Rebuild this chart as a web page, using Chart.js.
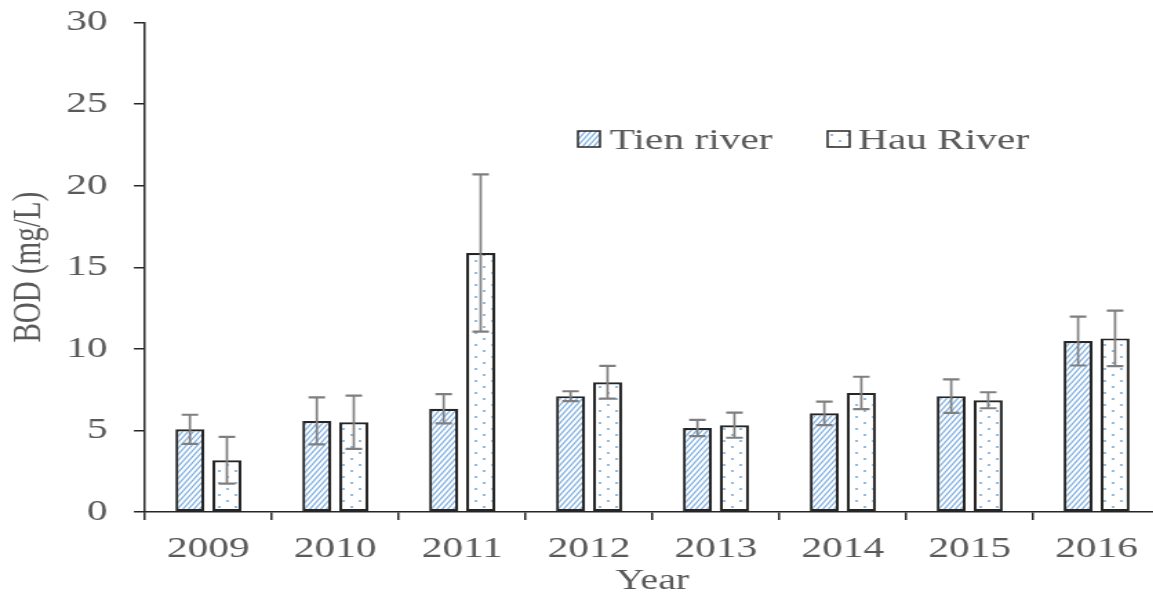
<!DOCTYPE html>
<html>
<head>
<meta charset="utf-8">
<script src="https://cdn.jsdelivr.net/npm/chart.js@4.4.1/dist/chart.umd.min.js"></script>
<style>
  html, body { margin: 0; padding: 0; background: #fff; overflow: hidden; }
</style>
</head>
<body>
<!-- canvas is drawn narrow and widened by CSS, giving the wide serif look -->
<canvas id="bod" width="841" height="599" style="display:block;width:1160px;height:599px"></canvas>
<script>
const years = ['2009', '2010', '2011', '2012', '2013', '2014', '2015', '2016']
const tienMean = [5.07, 5.58, 6.33, 7.1, 5.15, 6.05, 7.1, 10.48]
const tienSd = [0.89, 1.44, 0.9, 0.3, 0.5, 0.72, 1.03, 1.5]
const hauMean = [3.17, 5.5, 15.87, 7.95, 5.32, 7.3, 6.85, 10.64]
const hauSd = [1.43, 1.63, 4.82, 1.0, 0.77, 0.99, 0.49, 1.7]
const yTicks = [0, 5, 10, 15, 20, 25, 30]

const TEXT = '#595959'
const INK = '#262626'
const WHISKER = '#7f7f7f'
const SERIF = '"Liberation Serif", "Times New Roman", serif'

const spreads = [tienSd, hauSd]

const makeTile = (w, h, paint) => {
  const c = document.createElement('canvas')
  c.width = w
  c.height = h
  const g = c.getContext('2d')
  g.fillStyle = '#fff'
  g.fillRect(0, 0, w, h)
  paint(g, w, h)
  return c
}

// wide upward diagonal for Tien river
const hatchTile = makeTile(4, 6, (g, w, h) => {
  g.strokeStyle = '#79ace0'
  g.lineWidth = 1.2
  for (const c of [0, h, 2 * h]) {
    g.beginPath()
    g.moveTo(-1, c + h / w)
    g.lineTo(w + 1, c - h - h / w)
    g.stroke()
  }
})

// sparse staggered dots for Hau River
const dotTile = makeTile(12, 12, (g) => {
  g.fillStyle = '#5b9bd5'
  for (const [x, y] of [[3, 3], [9, 9]]) {
    g.beginPath()
    g.arc(x, y, 0.9, 0, Math.PI * 2)
    g.fill()
  }
})

const canvas = document.getElementById('bod')
const ctx = canvas.getContext('2d')
const hatch = ctx.createPattern(hatchTile, 'repeat')
const dots = ctx.createPattern(dotTile, 'repeat')

const errorBars = {
  id: 'errorBars',
  afterDatasetsDraw(chart) {
    const { ctx, scales: { y } } = chart
    ctx.save()
    ctx.strokeStyle = WHISKER
    chart.data.datasets.forEach((ds, i) => {
      const meta = chart.getDatasetMeta(i)
      meta.data.forEach((bar, j) => {
        const hi = y.getPixelForValue(ds.data[j] + spreads[i][j])
        const lo = y.getPixelForValue(ds.data[j] - spreads[i][j])
        ctx.lineWidth = 1.7
        ctx.beginPath()
        ctx.moveTo(bar.x, hi)
        ctx.lineTo(bar.x, lo)
        ctx.stroke()
        ctx.lineWidth = 2.2
        ctx.beginPath()
        ctx.moveTo(bar.x - 6, hi)
        ctx.lineTo(bar.x + 6, hi)
        ctx.moveTo(bar.x - 6, lo)
        ctx.lineTo(bar.x + 6, lo)
        ctx.stroke()
      })
    })
    ctx.restore()
  },
}

// legend sits inside the plot, to the upper right
const legendBoxes = {
  id: 'legendBoxes',
  afterDraw(chart) {
    const { ctx } = chart
    const spots = [{ box: 419, text: 442 }, { box: 600, text: 622 }]
    ctx.save()
    ctx.font = `30px ${SERIF}`
    ctx.textBaseline = 'alphabetic'
    chart.data.datasets.forEach((ds, i) => {
      const s = spots[i]
      ctx.fillStyle = ds.backgroundColor
      ctx.fillRect(s.box, 131, 16, 16)
      ctx.strokeStyle = INK
      ctx.lineWidth = 1.5
      ctx.strokeRect(s.box, 131, 16, 16)
      ctx.fillStyle = TEXT
      ctx.fillText(ds.label, s.text, 149)
    })
    ctx.restore()
  },
}

Chart.defaults.font.family = SERIF
Chart.defaults.color = TEXT

new Chart(canvas, {
  type: 'bar',
  data: {
    labels: years,
    datasets: [
      {
        label: 'Tien river',
        data: tienMean,
        backgroundColor: hatch,
        borderColor: INK,
        borderWidth: 2.2,
        borderSkipped: false,
        categoryPercentage: 0.583,
        barPercentage: 0.784,
      },
      {
        label: 'Hau River',
        data: hauMean,
        backgroundColor: dots,
        borderColor: INK,
        borderWidth: 2.2,
        borderSkipped: false,
        categoryPercentage: 0.583,
        barPercentage: 0.784,
      },
    ],
  },
  options: {
    responsive: false,
    animation: false,
    events: [],
    layout: { padding: { top: 22.5, right: 0, bottom: 0, left: 0 } },
    plugins: {
      legend: { display: false },
      tooltip: { enabled: false },
    },
    scales: {
      x: {
        grid: { offset: true, drawOnChartArea: false, color: INK, lineWidth: 1.5, tickLength: 8 },
        border: { color: INK, width: 1.5 },
        ticks: { color: TEXT, font: { size: 30 }, padding: 11, maxRotation: 0 },
        title: {
          display: true,
          text: 'Year',
          color: TEXT,
          font: { size: 29 },
          padding: { top: 0, bottom: 0 },
        },
        afterFit: (scale) => {
          scale.height = 87
        },
      },
      y: {
        min: 0,
        max: 30,
        afterBuildTicks: (scale) => {
          scale.ticks = yTicks.map((value) => ({ value }))
        },
        grid: { drawOnChartArea: false, color: INK, lineWidth: 1.5, tickLength: 8 },
        border: { color: INK, width: 1.5 },
        ticks: { color: TEXT, font: { size: 30 }, padding: 19 },
        title: {
          display: true,
          text: 'BOD (mg/L)',
          color: TEXT,
          font: { size: 29 },
          padding: { top: 4, bottom: 0 },
        },
        afterFit: (scale) => {
          scale.width = 105.1
          scale.paddingTop = 0
          scale.paddingBottom = 0
        },
      },
    },
  },
  plugins: [errorBars, legendBoxes],
})
</script>
</body>
</html>
